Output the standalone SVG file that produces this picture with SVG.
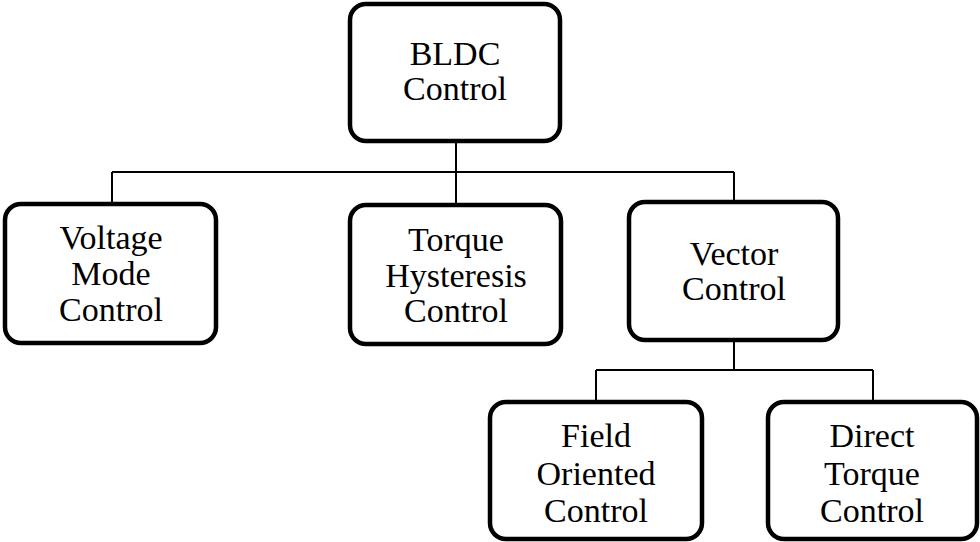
<svg xmlns="http://www.w3.org/2000/svg" width="980" height="542" viewBox="0 0 980 542">
<style>
.box{fill:#fff;stroke:#000;stroke-width:4.5}
.lbl{font-family:"Liberation Serif","Times New Roman",serif;font-size:34px;fill:#000;text-anchor:middle}
.conn{stroke:#000;stroke-width:2;fill:none}
</style>
<rect width="980" height="542" fill="#fff"/>
<g id="connectors" class="conn">
<path d="M456,143V172M112,172H734M112,172V202M456,172V203M734,172V200"/>
<path d="M734,342V370M596,370H873M596,370V400M873,370V400"/>
</g>
<g id="bldc">
<rect class="box" x="350" y="4" width="210" height="137" rx="16"/>
<text class="lbl" x="455" y="65">BLDC</text>
<text class="lbl" x="455" y="100">Control</text>
</g>
<g id="voltage">
<rect class="box" x="5" y="204" width="211" height="139" rx="16"/>
<text class="lbl" x="111" y="249">Voltage</text>
<text class="lbl" x="111" y="285">Mode</text>
<text class="lbl" x="111" y="321">Control</text>
</g>
<g id="torque-hysteresis">
<rect class="box" x="350" y="205" width="211" height="139" rx="16"/>
<text class="lbl" x="456" y="251">Torque</text>
<text class="lbl" x="456" y="287">Hysteresis</text>
<text class="lbl" x="456" y="322">Control</text>
</g>
<g id="vector">
<rect class="box" x="629" y="202" width="209" height="138" rx="16"/>
<text class="lbl" x="734" y="265">Vector</text>
<text class="lbl" x="734" y="300">Control</text>
</g>
<g id="foc">
<rect class="box" x="490" y="402" width="212" height="137" rx="16"/>
<text class="lbl" x="596" y="447">Field</text>
<text class="lbl" x="596" y="485">Oriented</text>
<text class="lbl" x="596" y="522">Control</text>
</g>
<g id="dtc">
<rect class="box" x="768" y="402" width="209" height="137" rx="16"/>
<text class="lbl" x="872" y="447">Direct</text>
<text class="lbl" x="872" y="485">Torque</text>
<text class="lbl" x="872" y="522">Control</text>
</g>
</svg>
